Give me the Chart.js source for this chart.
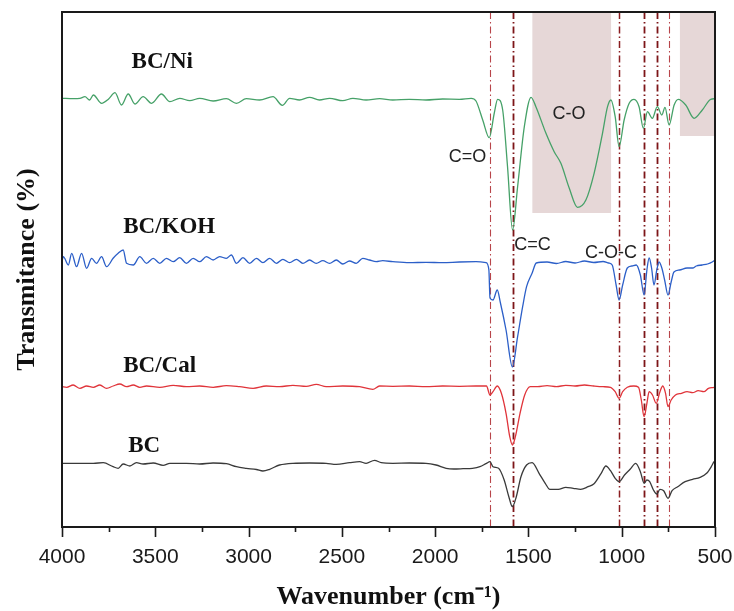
<!DOCTYPE html>
<html>
<head>
<meta charset="utf-8">
<script src="https://cdn.jsdelivr.net/npm/chart.js@4.4.0/dist/chart.umd.min.js"></script>
<style>
  body { margin: 0; background: #fff; }
  #wrap { width: 734px; height: 611px; }
</style>
</head>
<body>
<div id="wrap"><canvas id="ftir" width="734" height="611"></canvas></div>
<script>
// FTIR spectra, stacked (transmittance in arbitrary offset units)
var seriesNames = ['BC/Ni', 'BC/KOH', 'BC/Cal', 'BC'];

// BC/Ni
var niWn = [4000, 3940, 3904, 3877, 3852, 3832, 3788, 3750, 3716, 3681, 3645, 3609, 3565, 3520, 3467, 3422, 3369, 3315, 3262, 3190, 3119, 3065, 3012, 2941, 2869, 2819, 2780, 2727, 2673, 2620, 2566, 2495, 2441, 2370, 2298, 2227, 2138, 2049, 1960, 1870, 1807, 1781, 1745, 1710, 1683, 1665, 1638, 1612, 1585, 1558, 1522, 1486, 1460, 1406, 1362, 1326, 1281, 1237, 1192, 1148, 1103, 1076, 1058, 1035, 1014, 987, 960, 934, 907, 884, 862, 836, 809, 785, 768, 746, 719, 697, 657, 612, 568, 523, 500];
var niT = [436.7, 436.3, 436.7, 438.3, 435, 440, 431.7, 436, 442.3, 430, 441, 431, 438.3, 431.7, 441, 433.3, 436.7, 434.3, 436.7, 434, 436.3, 431.7, 436.3, 435, 438.3, 429.7, 436.7, 435, 437.7, 435, 436.7, 434.3, 436.7, 435, 436.3, 435, 435.7, 435, 436, 435.7, 436.7, 434, 415, 397.3, 422, 435.7, 425, 368.3, 305, 348.3, 408.3, 437.7, 428.3, 401.7, 383.3, 371.7, 346.7, 327.7, 335, 361.7, 401.7, 428.3, 435, 418.3, 388.3, 415, 431.7, 435.7, 428.3, 406.7, 423.3, 416.7, 428.3, 420, 427.7, 410, 430, 435.7, 430, 416.7, 425, 435.7, 436.3];

// BC/KOH
var kohWn = [4000, 3993, 3966, 3948, 3922, 3895, 3868, 3841, 3815, 3788, 3761, 3726, 3699, 3672, 3654, 3618, 3583, 3547, 3511, 3476, 3440, 3404, 3369, 3333, 3297, 3262, 3226, 3190, 3155, 3119, 3092, 3065, 3030, 2994, 2958, 2923, 2887, 2851, 2816, 2780, 2744, 2709, 2673, 2637, 2602, 2566, 2530, 2495, 2459, 2423, 2388, 2352, 2316, 2281, 2227, 2138, 2049, 1960, 1870, 1781, 1727, 1712, 1706, 1690, 1667, 1650, 1620, 1586, 1558, 1531, 1510, 1480, 1458, 1400, 1350, 1300, 1250, 1200, 1150, 1100, 1070, 1051, 1030, 1014, 995, 970, 945, 922, 900, 880, 865, 853, 840, 827, 812, 800, 785, 770, 752, 735, 720, 690, 650, 620, 600, 570, 540, 515, 500];
var kohT = [274, 278.3, 270, 281.7, 268.3, 281.7, 266.7, 276.7, 271.7, 278.3, 268.3, 276.7, 281.7, 285, 271.7, 270, 278.3, 271.7, 276.7, 271.7, 276.7, 273.3, 277.3, 271.7, 276.7, 273.3, 278.3, 275, 278.3, 276.7, 280, 271.7, 277.3, 271.7, 276.7, 272.3, 276.7, 271.7, 275.7, 272.3, 275.7, 271.7, 275, 271.7, 274.3, 271.7, 275, 271, 274, 271.7, 276.7, 275, 273.3, 274.3, 273.3, 272.3, 272.7, 272.3, 273, 273.3, 272.3, 265, 237, 235, 245, 232, 205, 168, 198.3, 228.3, 248.3, 262, 272, 273, 271.5, 273.5, 272, 274, 272.5, 273.5, 272, 270, 250, 235, 250, 267, 269, 270, 260, 240, 265, 277, 267, 250, 265, 273, 267, 255, 240, 253, 263, 265, 267, 267, 269, 270, 271, 273, 275];

// BC/Cal
var calWn = [4000, 3975, 3940, 3904, 3868, 3832, 3797, 3761, 3726, 3690, 3654, 3618, 3583, 3547, 3476, 3404, 3333, 3262, 3190, 3119, 3048, 2976, 2905, 2834, 2762, 2691, 2637, 2584, 2495, 2405, 2334, 2298, 2227, 2138, 2049, 1960, 1870, 1781, 1725, 1706, 1690, 1667, 1645, 1620, 1600, 1586, 1570, 1545, 1520, 1490, 1450, 1400, 1350, 1300, 1250, 1200, 1150, 1100, 1060, 1035, 1014, 995, 970, 935, 910, 895, 880, 865, 853, 835, 815, 795, 780, 765, 752, 735, 712, 680, 650, 620, 590, 560, 535, 505, 500];
var calT = [148.3, 147.7, 150, 146.7, 149, 147.7, 150, 146.7, 149, 151, 148.3, 150, 147.7, 149, 147.7, 149.7, 148.3, 149, 147.7, 149.3, 148.3, 146.7, 149, 148.3, 149.7, 148.7, 150.7, 148.3, 149, 148.3, 145.7, 149, 148.7, 149, 148.3, 149, 148.7, 149, 149, 140, 143.3, 149, 141.7, 121.7, 98.3, 90, 98.3, 121.7, 140, 148.3, 148.3, 149.3, 148.3, 149.7, 149, 150, 149, 148.3, 147.7, 143.3, 136.7, 143.3, 147.7, 149, 147.7, 135, 118.3, 131.7, 143.3, 140, 131.7, 143.3, 149, 141.7, 128.3, 135, 140, 141.7, 143.3, 142.3, 144.3, 143.3, 146.7, 147.7, 148];

// BC
var bcWn = [4000, 3904, 3832, 3779, 3726, 3699, 3672, 3636, 3601, 3565, 3511, 3458, 3422, 3333, 3262, 3190, 3119, 3065, 3012, 2958, 2923, 2887, 2834, 2762, 2673, 2584, 2530, 2459, 2405, 2370, 2325, 2289, 2227, 2138, 2049, 1995, 1941, 1900, 1850, 1800, 1760, 1725, 1706, 1690, 1660, 1630, 1605, 1586, 1565, 1540, 1510, 1480, 1443, 1410, 1385, 1340, 1300, 1260, 1220, 1180, 1150, 1110, 1085, 1060, 1035, 1014, 985, 955, 925, 900, 880, 865, 850, 830, 812, 795, 775, 752, 730, 700, 660, 620, 580, 545, 520, 505, 500];
var bcT = [71.7, 71.7, 71.7, 72.3, 68.3, 66.7, 71, 69, 72.3, 71, 72, 69.7, 71.7, 71.7, 71, 72, 71.3, 68.3, 66.7, 65.5, 64, 65.7, 70, 71.7, 72, 71.7, 70.7, 72.3, 73.3, 71.7, 74.7, 72.3, 71.7, 72, 71.7, 70, 66.7, 66, 66.3, 66.7, 68.3, 71.7, 73.3, 68.3, 66.7, 55, 38.3, 28.3, 38.3, 58.3, 70, 72.3, 61.7, 51.7, 45.7, 45.7, 47.7, 46.7, 45.7, 48.3, 51, 61.7, 69, 64.3, 56.7, 53.3, 60, 65.7, 71.7, 63.3, 51.7, 55, 53.3, 45, 41, 45.7, 44.3, 36.7, 44.3, 48.3, 53.3, 55.7, 57.7, 61.7, 68.3, 73.3, 74];

// x axis
var xMin = 500, xMax = 4000, xStep = 250, xLabelStep = 500;

// band markers (cm-1) and shaded C-O regions
var bandLines = [1704, 1584, 1012, 878, 810, 746];
var shadeFrom = [1479, 688];
var shadeTo = [1057, 500];
var shadeTop = [322, 399];

// band annotations
var bandText = ['C=O', 'C=C', 'C-O', 'C-O-C'];
var bandTextWn = [1927, 1576, 1371, 1197];
var bandTextT = [373.3, 285, 415.7, 276.7];

// series label positions (left edge wn, baseline)
var nameWn = [3627, 3672, 3672, 3645];
var nameT = [467, 301.7, 163.3, 83.3];

function pts(wn, t) {
  return wn.map(function(w, i) { return { x: w, y: t[i] }; });
}

var lineStyle = [
  { color: '#b8454a', width: 1.1 },
  { color: '#7d1518', width: 1.8 },
  { color: '#8b1d20', width: 1.5 },
  { color: '#7d1518', width: 1.8 },
  { color: '#7d1518', width: 1.8 },
  { color: '#b8454a', width: 1.1 }
];

var decor = {
  id: 'decor',
  beforeDatasetsDraw: function(chart) {
    var ctx = chart.ctx, xs = chart.scales.x, ys = chart.scales.y, a = chart.chartArea;
    ctx.save();
    ctx.fillStyle = '#e6d7d7';
    for (var i = 0; i < shadeFrom.length; i++) {
      var x1 = xs.getPixelForValue(shadeFrom[i]);
      var x2 = xs.getPixelForValue(shadeTo[i]);
      var yb = ys.getPixelForValue(shadeTop[i]);
      ctx.fillRect(x1, a.top, x2 - x1, yb - a.top);
    }
    for (var j = 0; j < bandLines.length; j++) {
      var x = Math.round(xs.getPixelForValue(bandLines[j])) + 0.5;
      ctx.strokeStyle = lineStyle[j].color;
      ctx.lineWidth = lineStyle[j].width;
      ctx.setLineDash([7, 3, 1.5, 3]);
      ctx.beginPath();
      ctx.moveTo(x, a.top);
      ctx.lineTo(x, a.bottom);
      ctx.stroke();
    }
    ctx.restore();
  },
  afterDatasetsDraw: function(chart) {
    var ctx = chart.ctx, xs = chart.scales.x, ys = chart.scales.y, a = chart.chartArea;
    ctx.save();
    ctx.textBaseline = 'alphabetic';
    ctx.textAlign = 'left';
    ctx.fillStyle = '#111';
    ctx.font = 'bold 23px "Liberation Serif", "Times New Roman", serif';
    for (var i = 0; i < seriesNames.length; i++) {
      ctx.fillText(seriesNames[i], xs.getPixelForValue(nameWn[i]), ys.getPixelForValue(nameT[i]));
    }
    ctx.fillStyle = '#222';
    ctx.font = '18px "Liberation Sans", Arial, sans-serif';
    for (var k = 0; k < bandText.length; k++) {
      ctx.fillText(bandText[k], xs.getPixelForValue(bandTextWn[k]), ys.getPixelForValue(bandTextT[k]));
    }
    // frame
    ctx.strokeStyle = '#1a1a1a';
    ctx.lineWidth = 2;
    ctx.strokeRect(a.left, a.top, a.right - a.left, a.bottom - a.top);
    // tick marks
    ctx.lineWidth = 1.6;
    xs.ticks.forEach(function(t) {
      var px = Math.round(xs.getPixelForValue(t.value)) + 0.5;
      var len = t.value % xLabelStep === 0 ? 10 : 5;
      ctx.beginPath();
      ctx.moveTo(px, a.bottom);
      ctx.lineTo(px, a.bottom + len);
      ctx.stroke();
    });
    ctx.restore();
  }
};

var common = { pointRadius: 0, borderWidth: 1.3, fill: false, cubicInterpolationMode: 'monotone' };

new Chart(document.getElementById('ftir').getContext('2d'), {
  type: 'line',
  data: {
    datasets: [
      Object.assign({ label: seriesNames[3], data: pts(bcWn, bcT), borderColor: '#3a3a3a' }, common),
      Object.assign({ label: seriesNames[2], data: pts(calWn, calT), borderColor: '#e0343a' }, common),
      Object.assign({ label: seriesNames[1], data: pts(kohWn, kohT), borderColor: '#2c5fc8' }, common),
      Object.assign({ label: seriesNames[0], data: pts(niWn, niT), borderColor: '#46a168' }, common)
    ]
  },
  options: {
    responsive: false,
    animation: false,
    layout: { padding: { top: 12, right: 19, left: 0, bottom: 0 } },
    plugins: {
      legend: { display: false },
      tooltip: { enabled: false }
    },
    scales: {
      x: {
        type: 'linear',
        reverse: true,
        min: xMin,
        max: xMax,
        afterFit: function(s) { s.height = 84; s.paddingLeft = 0; s.paddingRight = 0; },
        grid: { display: false, drawTicks: false },
        border: { display: false },
        ticks: {
          stepSize: xStep,
          autoSkip: false,
          maxRotation: 0,
          padding: 18,
          color: '#1a1a1a',
          font: { family: '"Liberation Sans", Arial, sans-serif', size: 21 },
          callback: function(v) { return v % xLabelStep === 0 ? String(v) : ''; }
        },
        title: {
          display: true,
          text: 'Wavenumber (cm\u207B\u00B9)',
          color: '#111',
          font: { family: '"Liberation Serif", "Times New Roman", serif', size: 26, weight: 'bold', lineHeight: 1 },
          padding: { top: 0, bottom: 1 }
        }
      },
      y: {
        min: 8,
        max: 523,
        afterFit: function(s) { s.width = 62; },
        grid: { display: false, drawTicks: false },
        border: { display: false },
        ticks: { display: false },
        title: {
          display: true,
          text: 'Transmitance (%)',
          color: '#111',
          font: { family: '"Liberation Serif", "Times New Roman", serif', size: 26, weight: 'bold', lineHeight: 1 },
          padding: { top: 14, bottom: 0 }
        }
      }
    }
  },
  plugins: [decor]
});
</script>
</body>
</html>
